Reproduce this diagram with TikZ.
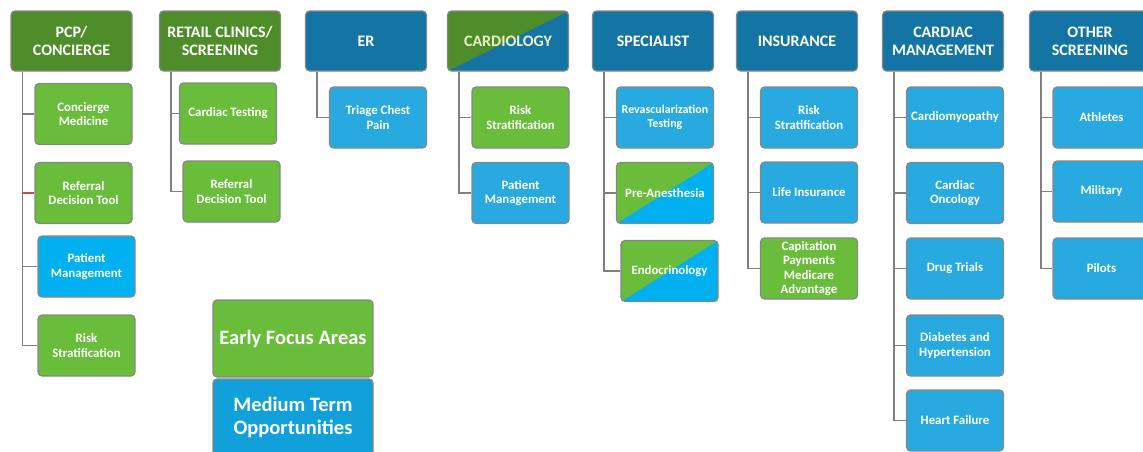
\documentclass[tikz,border=0pt]{standalone}
\usepackage{fontspec}
\setmainfont{Carlito}
\usepackage{tikz}

\definecolor{hgreen}{RGB}{78,141,41}
\definecolor{hblue}{RGB}{20,117,164}
\definecolor{cgreen}{RGB}{106,189,59}
\definecolor{cblue}{RGB}{40,170,225}
\definecolor{bblue}{RGB}{0,176,240}
\definecolor{lblue}{RGB}{18,160,218}
\definecolor{boxline}{RGB}{135,135,135}
\definecolor{linegray}{RGB}{128,128,128}
\definecolor{linered}{RGB}{192,80,77}
\definecolor{cream}{RGB}{235,240,200}

\begin{document}
\begin{tikzpicture}[x=1pt,y=-1pt]
\tikzstyle{box}=[draw=boxline,line width=1.2pt,rounded corners=4pt,text=white,align=center,inner sep=1pt]
\tikzstyle{headbox}=[box,minimum width=121pt,minimum height=60pt,font=\fontsize{16}{18}\selectfont\bfseries]
\tikzstyle{subbox}=[box,minimum width=97pt,minimum height=61pt,font=\fontsize{12.8}{14.2}\selectfont\bfseries]
\tikzstyle{keybox}=[box,minimum width=160pt,minimum height=77pt,font=\fontsize{20.5}{22.5}\selectfont\bfseries]
\tikzstyle{cardsplit}=[path picture={\fill[hgreen] (path picture bounding box.south west) -- (path picture bounding box.north west) -- (path picture bounding box.north east) -- cycle;}]
\tikzstyle{mixsplit}=[path picture={\fill[cgreen] (path picture bounding box.south west) -- (path picture bounding box.north west) -- (path picture bounding box.north east) -- cycle;}]
\tikzstyle{link}=[draw=linegray,line width=1.2pt]
\useasboundingbox (0,0) rectangle (1143,451);

% top row
\node[headbox,fill=hgreen] (pcp) at (71.5,41) {PCP/\\CONCIERGE};
\node[headbox,fill=hgreen] (retail) at (220,41) {RETAIL CLINICS/\\SCREENING};
\node[headbox,fill=hblue] (er) at (366,41) {ER};
\node[headbox,fill=hblue,cardsplit,text=cream] (cardio) at (508,41) {CARDIOLOGY};
\node[headbox,fill=hblue] (spec) at (653,41) {SPECIALIST};
\node[headbox,fill=hblue] (ins) at (797,41) {INSURANCE};
\node[headbox,fill=hblue] (cmgmt) at (943,41) {CARDIAC\\MANAGEMENT};
\node[headbox,fill=hblue] (other) at (1090,41) {OTHER\\SCREENING};

% boxes below
\foreach \name/\point/\look/\txt in {
	pcp1/{83.5,114}/cgreen/{Concierge\\Medicine},
	pcp2/{83.5,193}/cgreen/{Referral\\Decision Tool},
	pcp3/{86.5,266.5}/bblue/{Patient\\Management},
	pcp4/{86.5,345.5}/cgreen/{Risk\\Stratification},
	ret1/{228,113.5}/cgreen/{Cardiac Testing},
	ret2/{231.5,191.5}/cgreen/{Referral\\Decision Tool},
	er1/{378,117.5}/cblue/{Triage Chest\\Pain},
	car1/{520.5,117.5}/cgreen/{Risk\\Stratification},
	car2/{520.5,193}/cblue/{Patient\\Management},
	ins1/{809,117.5}/cblue/{Risk\\Stratification},
	ins2/{809,192.5}/cblue/{Life Insurance},
	ins3/{809,268.5}/cgreen/{Capitation\\Payments\\Medicare\\Advantage},
	cm1/{955,117.5}/cblue/{Cardiomyopathy},
	cm2/{955,193}/cblue/{Cardiac\\Oncology},
	cm3/{955,268.5}/cblue/{Drug Trials},
	cm4/{955,345.5}/cblue/{Diabetes and\\Hypertension},
	cm5/{955,420.5}/cblue/{Heart Failure},
	oth1/{1101.5,117.5}/cblue/{Athletes},
	oth2/{1101.5,191.5}/cblue/{Military},
	oth3/{1101.5,268.5}/cblue/{Pilots}}
	\node[subbox,fill=\look] (\name) at (\point) {\txt};
\node[subbox,fill=cblue,font=\fontsize{12}{14.2}\selectfont\bfseries] (sp1) at (665,117.5) {Revascularization\\Testing};
\node[subbox,fill=bblue,mixsplit] (sp2) at (665,193) {Pre-Anesthesia};
\node[subbox,fill=bblue,mixsplit] (sp3) at (669.5,271) {Endocrinology};

% key
\node[keybox,fill=cgreen] (early) at (293,338.5) {Early Focus Areas};
\node[keybox,fill=lblue] (medium) at (293,417.5) {Medium Term\\Opportunities};

% connectors
\foreach \hd/\kid in {pcp/pcp1,pcp/pcp2,pcp/pcp3,pcp/pcp4,retail/ret1,retail/ret2,er/er1,
	cardio/car1,cardio/car2,spec/sp1,spec/sp2,spec/sp3,ins/ins1,ins/ins2,ins/ins3,
	cmgmt/cm1,cmgmt/cm2,cmgmt/cm3,cmgmt/cm4,cmgmt/cm5,other/oth1,other/oth2,other/oth3}
	\draw[link] ([xshift=12pt]\hd.south west) |- (\kid.west);
\coordinate (pcptrunk) at ([xshift=12pt]pcp.south west);
\draw[link,draw=linered] (pcptrunk |- pcp2.west) -- (pcp2.west);
\end{tikzpicture}
\end{document}
